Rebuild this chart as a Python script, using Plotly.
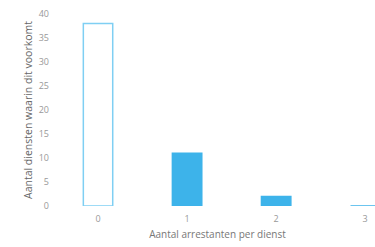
import plotly.graph_objects as go

categories = ["0", "1", "2", "3"]
values = [38, 11, 2, 0]

fill_colors = ["#ffffff", "#3db3ea", "#3db3ea", "#3db3ea"]
line_colors = ["#7fcff3", "#3db3ea", "#3db3ea", "#3db3ea"]

fig = go.Figure()
fig.add_trace(go.Bar(
    x=[0, 1, 2, 3],
    y=values,
    width=0.33,
    marker=dict(color=fill_colors, line=dict(color=line_colors, width=1.5)),
))

fig.update_layout(
    width=375, height=247,
    margin=dict(l=60, r=0, t=14, b=41),
    paper_bgcolor="white", plot_bgcolor="white",
    showlegend=False,
    font=dict(family="Open Sans", color="#8a8a8a", size=9),
    xaxis=dict(
        range=[-0.427, 3.11], automargin=False,
        tickmode="array", tickvals=[0, 1, 2, 3], ticktext=categories,
        showgrid=False, zeroline=False, showline=False, ticks="",
        tickfont=dict(size=9, color="#999999"),
        ticklabelstandoff=6,
        title=dict(text="Aantal arrestanten per dienst", standoff=6,
                   font=dict(size=10, color="#777777")),
    ),
    yaxis=dict(
        range=[0, 40], dtick=5, automargin=False,
        showgrid=False, zeroline=False, showline=False, ticks="",
        tickfont=dict(size=9, color="#999999"),
        ticklabelstandoff=10,
        title=dict(text="Aantal diensten waarin dit voorkomt", standoff=4,
                   font=dict(size=10.5, color="#666666")),
    ),
)

fig.write_html(
    "out.html",
    config={"displayModeBar": False},
    post_script="document.body.style.margin='0';document.body.style.overflow='hidden';",
)
